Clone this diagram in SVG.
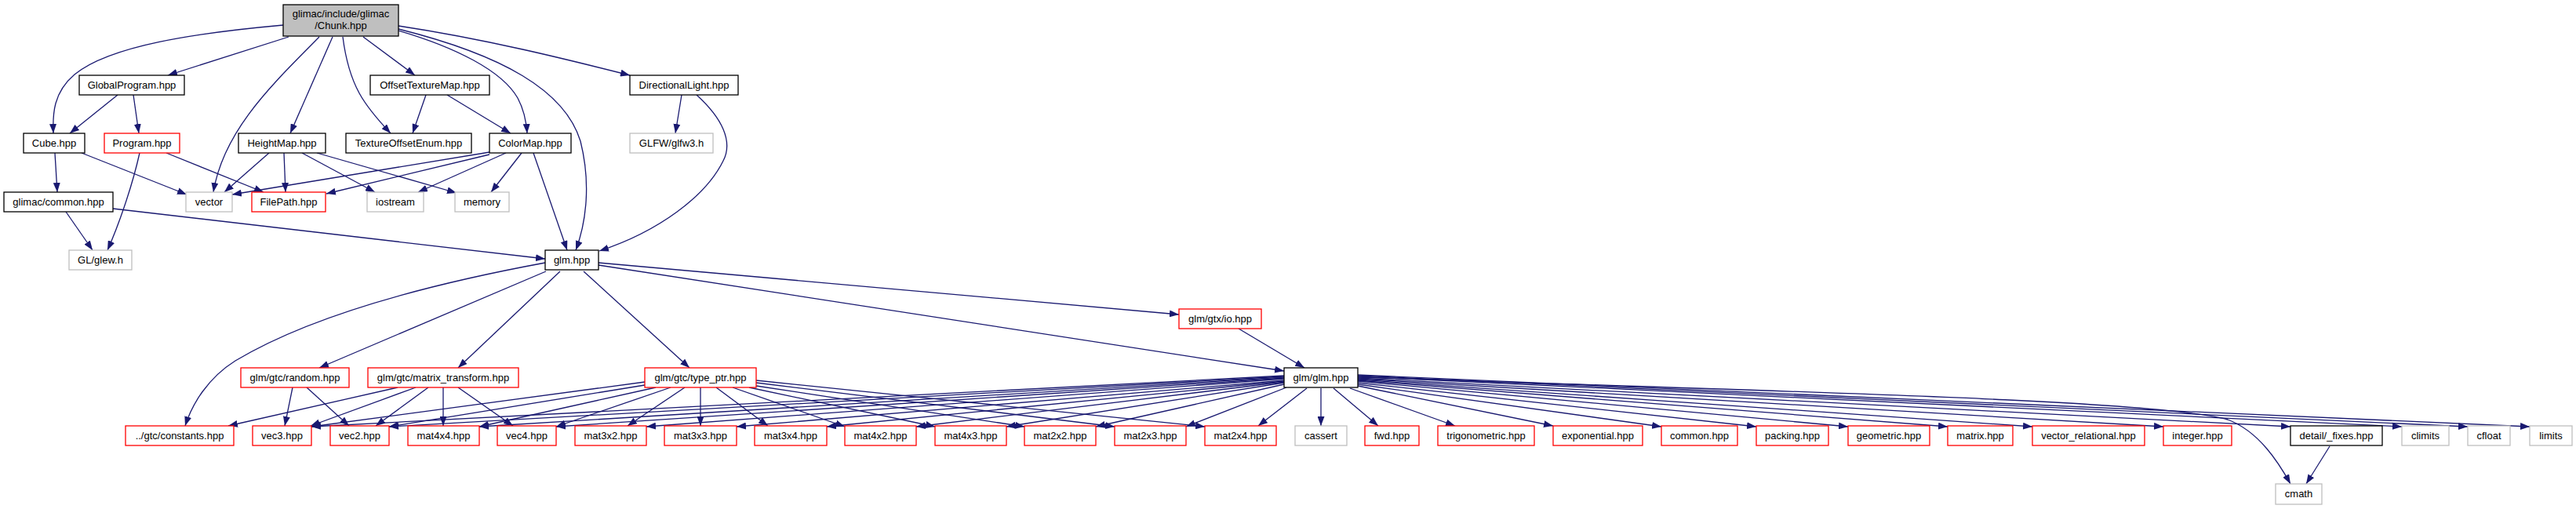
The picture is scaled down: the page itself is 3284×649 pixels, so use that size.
<svg xmlns="http://www.w3.org/2000/svg" width="3284" height="649" viewBox="0 0 3284 649">
<style>
text{font-family:"Liberation Sans",Arial,sans-serif;font-size:13px;fill:#000;text-anchor:middle}
.n rect{fill:#fff;stroke:#000;stroke-width:1.3}
.r rect{fill:#fff;stroke:#ff0000;stroke-width:1.3}
.g rect{fill:#fff;stroke:#bfbfbf;stroke-width:1.3}
.root rect{fill:#bfbfbf;stroke:#000;stroke-width:1.3}
#edges path{fill:none;stroke:#191970;stroke-width:1.3;marker-end:url(#arr)}
</style>
<defs>
<marker id="arr" markerUnits="userSpaceOnUse" markerWidth="12" markerHeight="9" refX="12" refY="4.5" orient="auto">
<path d="M0,0 L12,4.5 L0,9 Z" fill="#191970"/>
</marker>
</defs>
<rect width="3284" height="649" fill="#fff"/>
<g id="edges">
<path d="M361,32 C250,42 140,58 95,95 C68,118 67,145 68,170"/>
<path d="M368,47 L214,96"/>
<path d="M407,47 C350,105 285,165 272,245"/>
<path d="M424,47 L370,170"/>
<path d="M437,47 C445,110 465,135 498,170"/>
<path d="M463,47 L529,96"/>
<path d="M508,39 C580,60 640,90 660,125 C668,140 671,155 672,170"/>
<path d="M508,37 C640,70 720,115 740,180 C755,240 745,290 734,319"/>
<path d="M508,33 C620,50 720,75 803,96"/>
<path d="M150,121 L89,170"/>
<path d="M170,121 L177,170"/>
<path d="M70,195 L73,245"/>
<path d="M104,195 L238,248"/>
<path d="M178,195 C168,240 150,290 137,319"/>
<path d="M212,195 L336,245"/>
<path d="M343,195 L286,245"/>
<path d="M362,195 L364,245"/>
<path d="M385,195 L478,245"/>
<path d="M404,195 L582,246"/>
<path d="M543,121 L526,170"/>
<path d="M570,121 L651,170"/>
<path d="M624,194 L296,248"/>
<path d="M624,197 L416,247"/>
<path d="M645,195 L533,245"/>
<path d="M665,195 L626,245"/>
<path d="M680,195 L723,319"/>
<path d="M869,121 L861,170"/>
<path d="M888,121 C920,150 935,180 922,205 C900,250 840,295 764,320"/>
<path d="M84,270 L118,319"/>
<path d="M144,266 L695,330"/>
<path d="M695,335 C560,360 400,400 300,460 C265,482 245,515 236,543"/>
<path d="M696,346 L407,469"/>
<path d="M714,346 L584,469"/>
<path d="M744,346 L879,469"/>
<path d="M763,335 L1503,401"/>
<path d="M763,338 L1637,473"/>
<path d="M1579,419 L1663,469"/>
<path d="M373,494 L363,543"/>
<path d="M391,494 L445,543"/>
<path d="M507,494 L291,543"/>
<path d="M530,494 L396,543"/>
<path d="M546,494 L479,543"/>
<path d="M565,494 L565,543"/>
<path d="M584,494 L654,543"/>
<path d="M822,487 L397,544"/>
<path d="M822,491 L496,544"/>
<path d="M836,494 L611,544"/>
<path d="M855,494 L709,544"/>
<path d="M873,494 L800,543"/>
<path d="M893,494 L893,543"/>
<path d="M913,494 L979,543"/>
<path d="M934,494 L1077,544"/>
<path d="M955,494 L1192,544"/>
<path d="M964,492 L1306,544"/>
<path d="M964,488 L1421,544"/>
<path d="M964,485 L1536,544"/>
<path d="M1637,479 L397,544"/>
<path d="M1637,480 L496,544"/>
<path d="M1637,481 L611,544"/>
<path d="M1637,482 L709,544"/>
<path d="M1637,483 L824,544"/>
<path d="M1637,485 L939,544"/>
<path d="M1637,486 L1054,544"/>
<path d="M1637,487 L1168,544"/>
<path d="M1637,488 L1283,544"/>
<path d="M1637,490 L1397,544"/>
<path d="M1640,494 L1512,544"/>
<path d="M1666,495 L1604,543"/>
<path d="M1684,495 L1684,543"/>
<path d="M1700,495 L1757,543"/>
<path d="M1721,495 L1855,543"/>
<path d="M1731,492 L1980,543"/>
<path d="M1731,490 L2118,544"/>
<path d="M1731,488 L2239,544"/>
<path d="M1731,486 L2356,544"/>
<path d="M1731,485 L2483,544"/>
<path d="M1731,484 L2591,544"/>
<path d="M1731,483 L2758,544"/>
<path d="M1731,482 L2920,544"/>
<path d="M1731,481 C2300,500 2750,510 2840,535 C2880,550 2905,590 2920,617"/>
<path d="M1731,480 L3062,544"/>
<path d="M1731,479 L3146,544"/>
<path d="M1731,478 L3225,544"/>
<path d="M2970,569 L2940,617"/>
</g>
<g id="chunk" class="root"><rect x="361" y="6" width="147" height="40"/><text x="434.5" y="22">glimac/include/glimac</text><text x="434.5" y="37">/Chunk.hpp</text></g>
<g id="globalprogram" class="n"><rect x="101" y="96" width="134" height="25"/><text x="168" y="113">GlobalProgram.hpp</text></g>
<g id="offsettexturemap" class="n"><rect x="472" y="96" width="152" height="25"/><text x="548" y="113">OffsetTextureMap.hpp</text></g>
<g id="directionallight" class="n"><rect x="803" y="96" width="138" height="25"/><text x="872" y="113">DirectionalLight.hpp</text></g>
<g id="cube" class="n"><rect x="30" y="170" width="78" height="25"/><text x="69" y="187">Cube.hpp</text></g>
<g id="program" class="r"><rect x="133" y="170" width="96" height="25"/><text x="181" y="187">Program.hpp</text></g>
<g id="heightmap" class="n"><rect x="304" y="170" width="111" height="25"/><text x="359.5" y="187">HeightMap.hpp</text></g>
<g id="textureoffsetenum" class="n"><rect x="441" y="170" width="160" height="25"/><text x="521" y="187">TextureOffsetEnum.hpp</text></g>
<g id="colormap" class="n"><rect x="624" y="170" width="104" height="25"/><text x="676" y="187">ColorMap.hpp</text></g>
<g id="glfw" class="g"><rect x="803" y="170" width="106" height="25"/><text x="856" y="187">GLFW/glfw3.h</text></g>
<g id="glimaccommon" class="n"><rect x="5" y="245" width="139" height="25"/><text x="74.5" y="262">glimac/common.hpp</text></g>
<g id="vector" class="g"><rect x="237" y="245" width="59" height="25"/><text x="266.5" y="262">vector</text></g>
<g id="filepath" class="r"><rect x="321" y="245" width="94" height="25"/><text x="368" y="262">FilePath.hpp</text></g>
<g id="iostream" class="g"><rect x="468" y="245" width="72" height="25"/><text x="504" y="262">iostream</text></g>
<g id="memory" class="g"><rect x="580" y="245" width="69" height="25"/><text x="614.5" y="262">memory</text></g>
<g id="glew" class="g"><rect x="88" y="319" width="80" height="25"/><text x="128" y="336">GL/glew.h</text></g>
<g id="glm" class="n"><rect x="695" y="319" width="68" height="25"/><text x="729" y="336">glm.hpp</text></g>
<g id="gtxio" class="r"><rect x="1503" y="394" width="105" height="25"/><text x="1555.5" y="411">glm/gtx/io.hpp</text></g>
<g id="random" class="r"><rect x="307" y="469" width="138" height="25"/><text x="376" y="486">glm/gtc/random.hpp</text></g>
<g id="matrixtransform" class="r"><rect x="469" y="469" width="192" height="25"/><text x="565" y="486">glm/gtc/matrix_transform.hpp</text></g>
<g id="typeptr" class="r"><rect x="822" y="469" width="142" height="25"/><text x="893" y="486">glm/gtc/type_ptr.hpp</text></g>
<g id="glmglm" class="n"><rect x="1637" y="469" width="94" height="25"/><text x="1684" y="486">glm/glm.hpp</text></g>
<g id="constants" class="r"><rect x="160" y="543" width="138" height="25"/><text x="229" y="560">../gtc/constants.hpp</text></g>
<g id="vec3" class="r"><rect x="322" y="543" width="75" height="25"/><text x="359.5" y="560">vec3.hpp</text></g>
<g id="vec2" class="r"><rect x="421" y="543" width="75" height="25"/><text x="458.5" y="560">vec2.hpp</text></g>
<g id="mat4x4" class="r"><rect x="520" y="543" width="91" height="25"/><text x="565.5" y="560">mat4x4.hpp</text></g>
<g id="vec4" class="r"><rect x="634" y="543" width="75" height="25"/><text x="671.5" y="560">vec4.hpp</text></g>
<g id="mat3x2" class="r"><rect x="733" y="543" width="91" height="25"/><text x="778.5" y="560">mat3x2.hpp</text></g>
<g id="mat3x3" class="r"><rect x="847" y="543" width="92" height="25"/><text x="893" y="560">mat3x3.hpp</text></g>
<g id="mat3x4" class="r"><rect x="962" y="543" width="92" height="25"/><text x="1008" y="560">mat3x4.hpp</text></g>
<g id="mat4x2" class="r"><rect x="1077" y="543" width="91" height="25"/><text x="1122.5" y="560">mat4x2.hpp</text></g>
<g id="mat4x3" class="r"><rect x="1192" y="543" width="91" height="25"/><text x="1237.5" y="560">mat4x3.hpp</text></g>
<g id="mat2x2" class="r"><rect x="1306" y="543" width="91" height="25"/><text x="1351.5" y="560">mat2x2.hpp</text></g>
<g id="mat2x3" class="r"><rect x="1421" y="543" width="91" height="25"/><text x="1466.5" y="560">mat2x3.hpp</text></g>
<g id="mat2x4" class="r"><rect x="1536" y="543" width="91" height="25"/><text x="1581.5" y="560">mat2x4.hpp</text></g>
<g id="cassert" class="g"><rect x="1651" y="543" width="66" height="25"/><text x="1684" y="560">cassert</text></g>
<g id="fwd" class="r"><rect x="1740" y="543" width="69" height="25"/><text x="1774.5" y="560">fwd.hpp</text></g>
<g id="trigonometric" class="r"><rect x="1833" y="543" width="123" height="25"/><text x="1894.5" y="560">trigonometric.hpp</text></g>
<g id="exponential" class="r"><rect x="1980" y="543" width="114" height="25"/><text x="2037" y="560">exponential.hpp</text></g>
<g id="common" class="r"><rect x="2118" y="543" width="97" height="25"/><text x="2166.5" y="560">common.hpp</text></g>
<g id="packing" class="r"><rect x="2239" y="543" width="92" height="25"/><text x="2285" y="560">packing.hpp</text></g>
<g id="geometric" class="r"><rect x="2356" y="543" width="104" height="25"/><text x="2408" y="560">geometric.hpp</text></g>
<g id="matrix" class="r"><rect x="2483" y="543" width="83" height="25"/><text x="2524.5" y="560">matrix.hpp</text></g>
<g id="vectorrelational" class="r"><rect x="2591" y="543" width="143" height="25"/><text x="2662.5" y="560">vector_relational.hpp</text></g>
<g id="integer" class="r"><rect x="2758" y="543" width="87" height="25"/><text x="2801.5" y="560">integer.hpp</text></g>
<g id="fixes" class="n"><rect x="2920" y="543" width="117" height="25"/><text x="2978.5" y="560">detail/_fixes.hpp</text></g>
<g id="climits" class="g"><rect x="3062" y="543" width="60" height="25"/><text x="3092" y="560">climits</text></g>
<g id="cfloat" class="g"><rect x="3146" y="543" width="54" height="25"/><text x="3173" y="560">cfloat</text></g>
<g id="limits" class="g"><rect x="3225" y="543" width="54" height="25"/><text x="3252" y="560">limits</text></g>
<g id="cmath" class="g"><rect x="2901" y="617" width="59" height="26"/><text x="2930.5" y="634">cmath</text></g>
</svg>
